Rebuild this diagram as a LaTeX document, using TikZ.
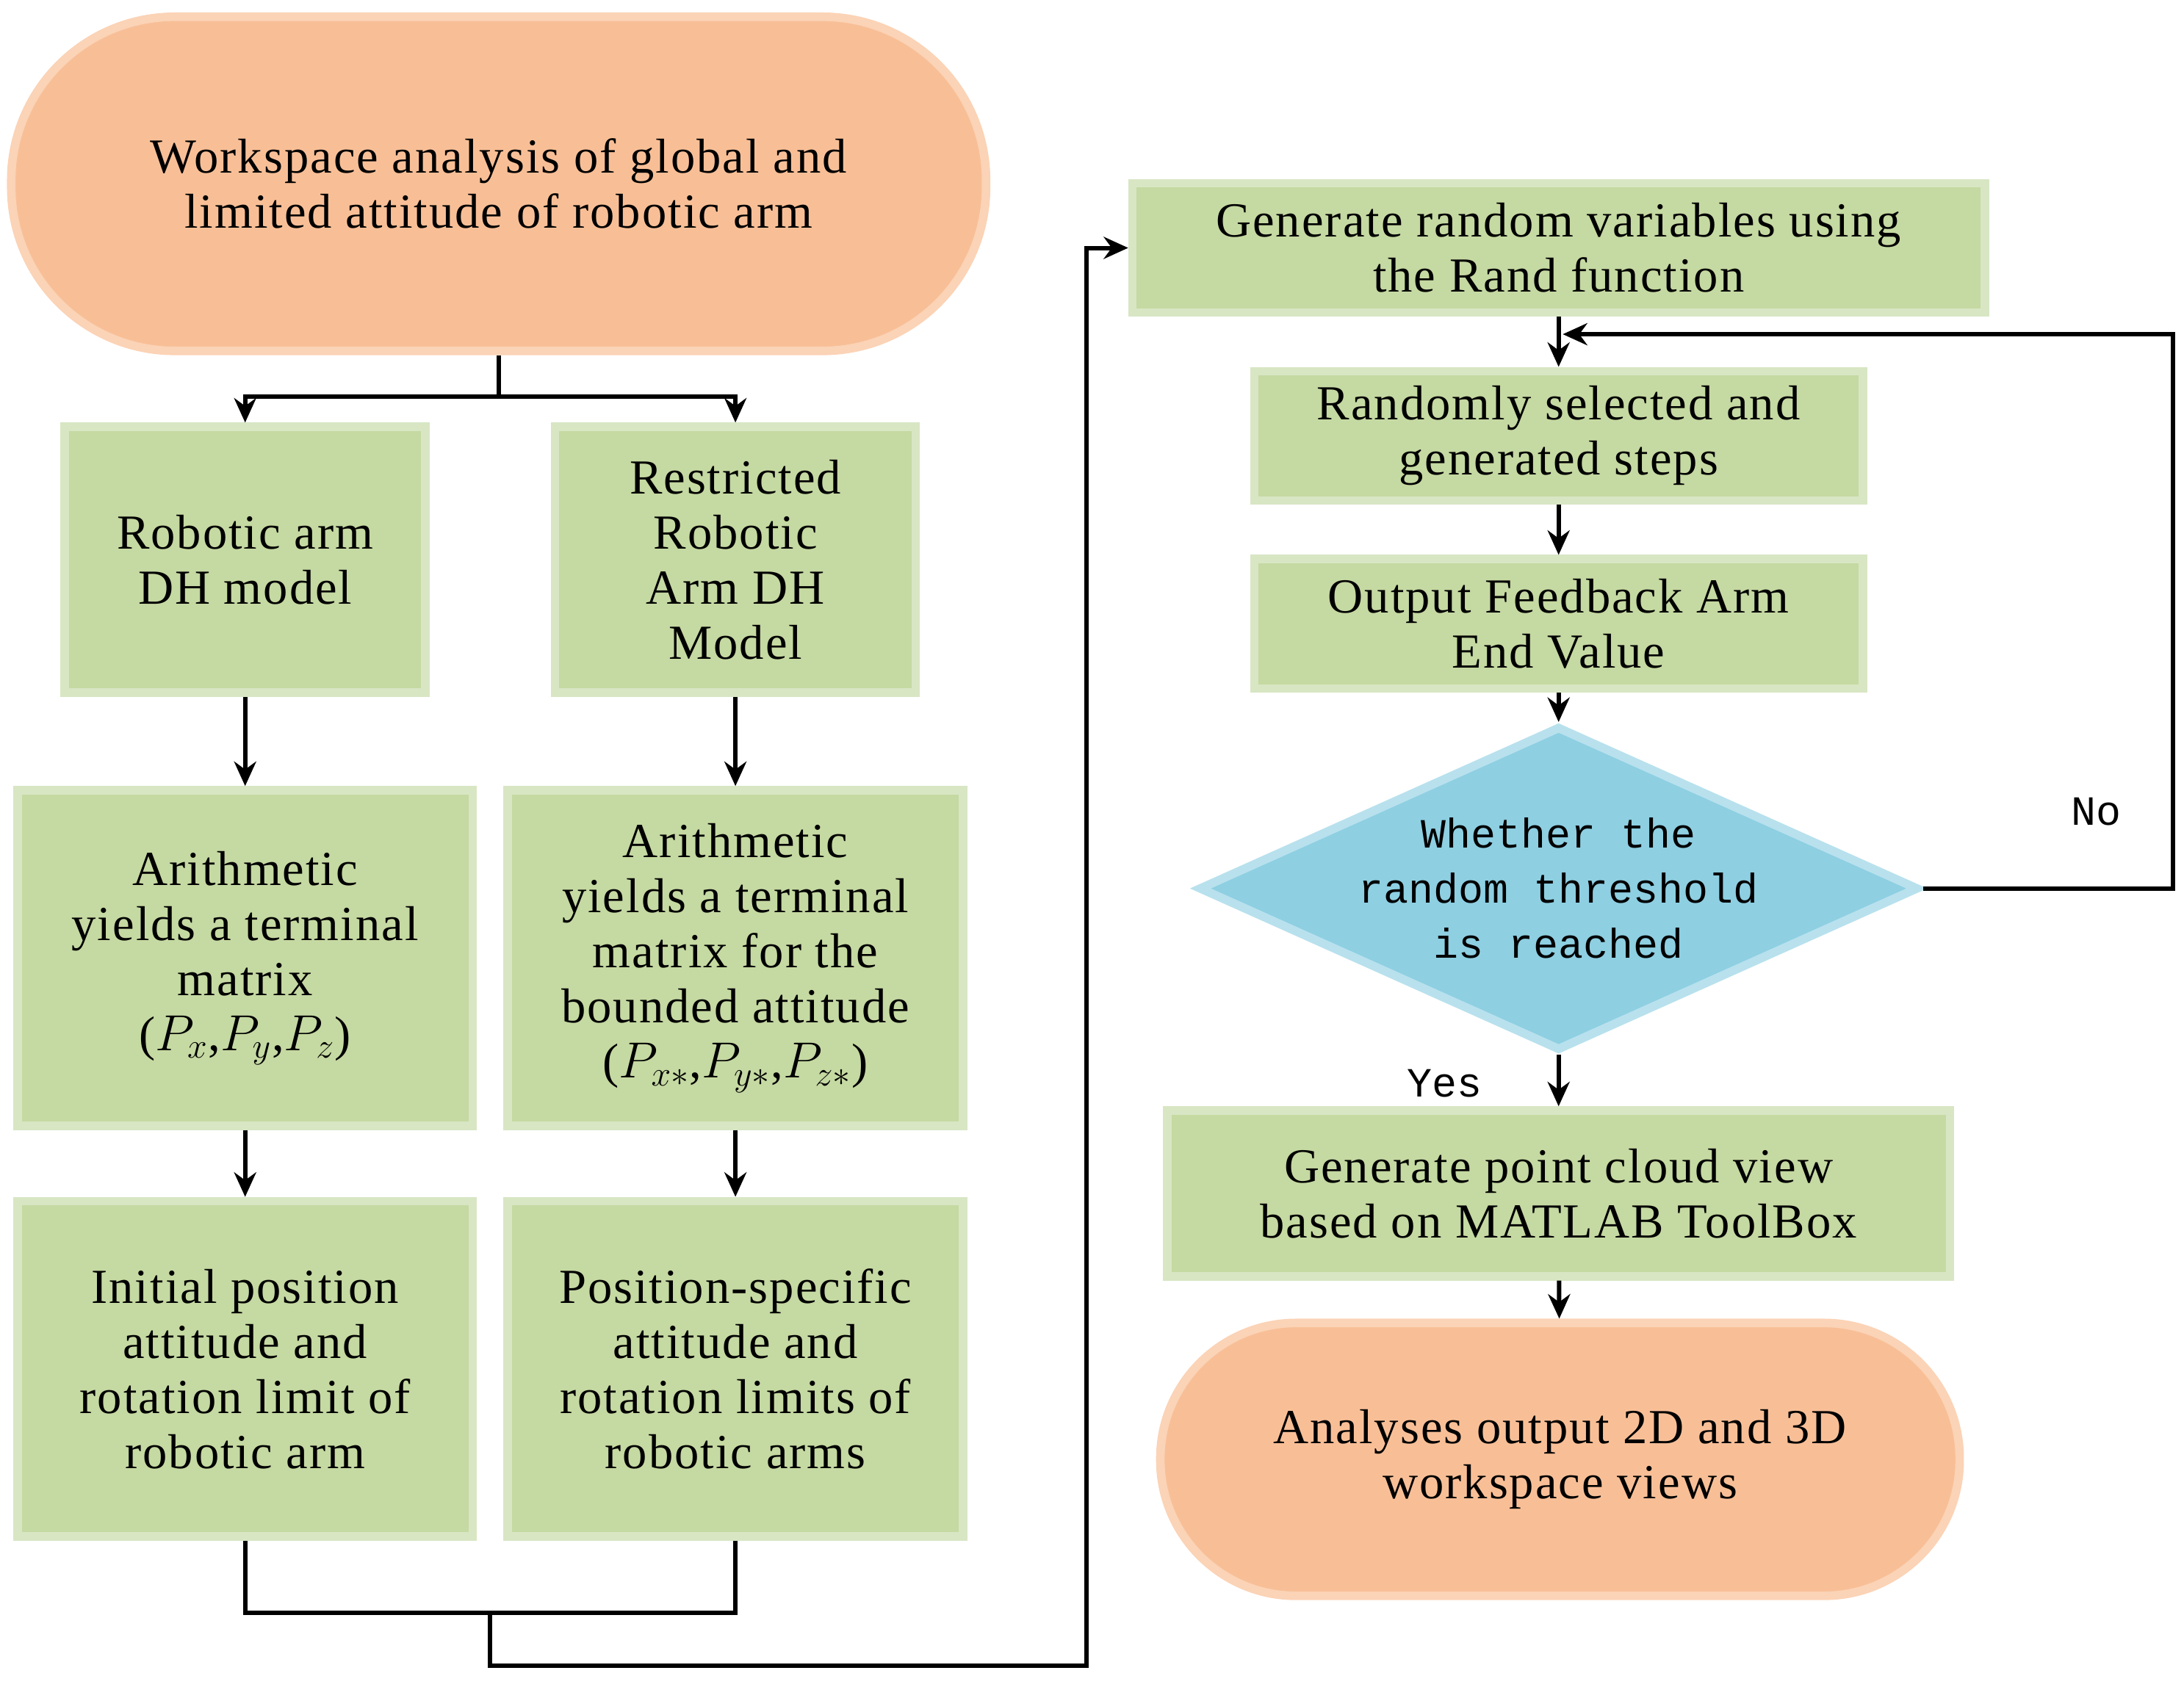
\documentclass[tikz,border=0pt]{standalone}
\usepackage{fontspec}
\setmainfont{Liberation Serif}[LetterSpace=3]
\newfontfamily\monofont{Liberation Mono}
\usetikzlibrary{shapes.geometric,arrows.meta}
\definecolor{gfill}{HTML}{C5D9A2}
\definecolor{gline}{HTML}{D8E6C4}
\definecolor{ofill}{HTML}{F8BF97}
\definecolor{oline}{HTML}{FBD3B6}
\definecolor{bfill}{HTML}{8ECFE2}
\definecolor{bline}{HTML}{B8E1ED}
\begin{document}
\begin{tikzpicture}[x=0.02cm,y=-0.02cm,
  every node/.style={font=\fontsize{20}{22.5}\selectfont, align=center, inner sep=2pt},
  gbox/.style={draw=gline, line width=3.5pt, fill=gfill},
  obox/.style={draw=oline, line width=3.5pt, fill=ofill},
  arr/.style={line width=1.8pt, -{Stealth[length=10pt,width=9pt]}},
  ln/.style={line width=1.8pt}]
\useasboundingbox (0,0) rectangle (1568,1211);
\node[obox, rounded corners=2.35cm, minimum width=14cm, minimum height=4.8cm] (top) at (358,132) {Workspace analysis of global and\\limited attitude of robotic arm};
\node[gbox, minimum width=5.18cm, minimum height=3.82cm] (dh1) at (176,402) {Robotic arm\\DH model};
\node[gbox, minimum width=5.18cm, minimum height=3.82cm] (dh2) at (528,402) {Restricted\\Robotic\\Arm DH\\Model};
\node[gbox, minimum width=6.54cm, minimum height=4.82cm] (ar1) at (176,688) {Arithmetic\\yields a terminal\\matrix\\($P_x$,$P_y$,$P_z$)};
\node[gbox, minimum width=6.54cm, minimum height=4.82cm] (ar2) at (528,688) {Arithmetic\\yields a terminal\\matrix for the\\bounded attitude\\($P_{x*}$,$P_{y*}$,$P_{z*}$)};
\node[gbox, minimum width=6.54cm, minimum height=4.82cm] (in1) at (176,983) {Initial position\\attitude and\\rotation limit of\\robotic arm};
\node[gbox, minimum width=6.54cm, minimum height=4.82cm] (in2) at (528,983) {Position-specific\\attitude and\\rotation limits of\\robotic arms};
\node[gbox, minimum width=12.24cm, minimum height=1.86cm] (gr) at (1119,178) {Generate random variables using\\the Rand function};
\node[gbox, minimum width=8.74cm, minimum height=1.86cm] (rs) at (1119,313) {Randomly selected and\\generated steps};
\node[gbox, minimum width=8.74cm, minimum height=1.86cm] (of) at (1119,448) {Output Feedback Arm\\End Value};
\node[diamond, draw=bline, line width=3.5pt, fill=bfill, inner sep=0pt, aspect=2.2, minimum width=10.34cm, minimum height=4.66cm, font=\monofont\fontsize{17}{22.5}\selectfont] (dm) at (1119,638) {Whether the\\random threshold\\is reached};
\node[gbox, minimum width=11.24cm, minimum height=2.38cm] (pc) at (1119,857) {Generate point cloud view\\based on MATLAB ToolBox};
\node[obox, rounded corners=1.95cm, minimum width=11.48cm, minimum height=3.92cm] (an) at (1120,1048) {Analyses output 2D and 3D\\workspace views};
\coordinate (sp) at (358,285);
\draw[ln] (top.south) -- (sp);
\draw[arr] (sp) -| (dh1.north);
\draw[arr] (sp) -| (dh2.north);
\draw[arr] (dh1) -- (ar1);
\draw[arr] (dh2) -- (ar2);
\draw[arr] (ar1) -- (in1);
\draw[arr] (ar2) -- (in2);
\coordinate (j) at (352,1158);
\draw[ln] (in1.south) |- (j) -| (in2.south);
\coordinate (c1) at (780,1196);
\draw[arr] (j) -- (352,1196) -- (c1) |- (gr.west);
\draw[arr] (gr) -- (rs);
\draw[arr] (rs) -- (of);
\draw[arr] (of) -- (dm);
\draw[arr] (dm) -- (pc);
\draw[arr] (pc) -- (an);
\coordinate (lp) at (1560,240);
\coordinate (lt) at (1122,240);
\draw[arr] (dm.east) -| (lp) -- (lt);
\node[font=\monofont\fontsize{17}{20}\selectfont] (no) at (1505,583) {No};
\node[font=\monofont\fontsize{17}{20}\selectfont] (yes) at (1037,778) {Yes};
\end{tikzpicture}
\end{document}
